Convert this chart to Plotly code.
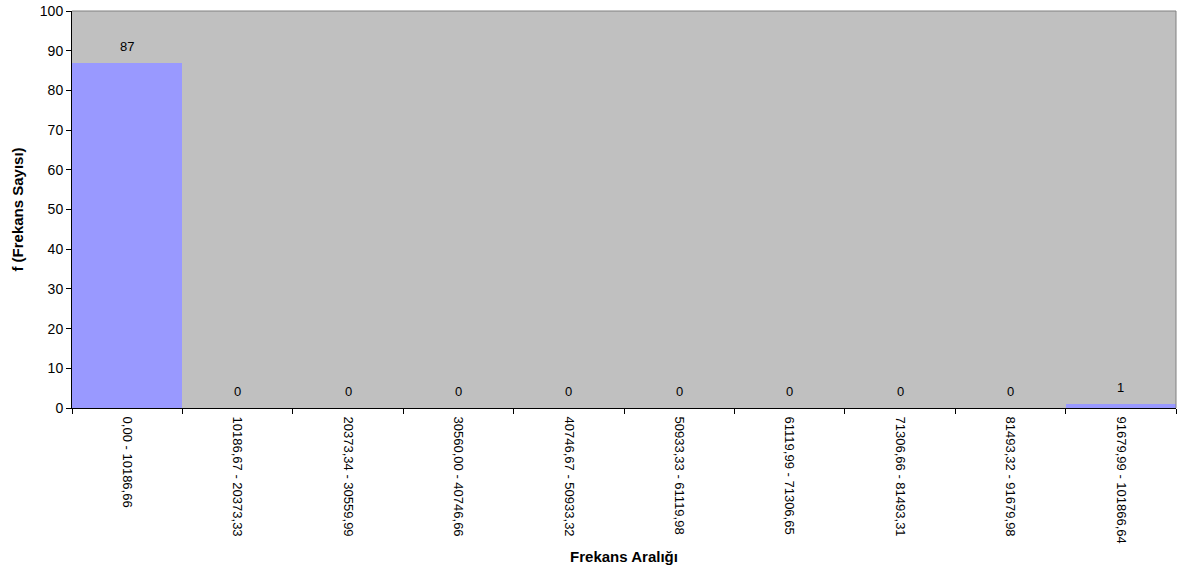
import plotly.graph_objects as go

categories = [
    "0,00 - 10186,66",
    "10186,67 - 20373,33",
    "20373,34 - 30559,99",
    "30560,00 - 40746,66",
    "40746,67 - 50933,32",
    "50933,33 - 61119,98",
    "61119,99 - 71306,65",
    "71306,66 - 81493,31",
    "81493,32 - 91679,98",
    "91679,99 - 101866,64",
]
frequencies = [87, 0, 0, 0, 0, 0, 0, 0, 0, 1]

FONT = "Arial, Liberation Sans, sans-serif"

fig = go.Figure()
fig.add_trace(go.Bar(
    x=categories,
    y=frequencies,
    marker=dict(color="#9999FF", line=dict(width=0)),
    hoverinfo="x+y",
))

for c, v in zip(categories, frequencies):
    fig.add_annotation(
        x=c, y=v, text=str(v), showarrow=False,
        yanchor="bottom", yshift=7,
        font=dict(family=FONT, size=13, color="black"),
    )

# gray top/right border of plot area
fig.add_shape(type="line", xref="paper", yref="paper", x0=0, x1=1, y0=1, y1=1,
              line=dict(color="#808080", width=1))
fig.add_shape(type="line", xref="paper", yref="paper", x0=1, x1=1, y0=0, y1=1,
              line=dict(color="#808080", width=1))

fig.update_layout(
    width=1177, height=574,
    margin=dict(l=72, r=1, t=11, b=166, autoexpand=False),
    paper_bgcolor="white",
    plot_bgcolor="#C0C0C0",
    bargap=0,
    showlegend=False,
    font=dict(family=FONT, size=13, color="black"),
    xaxis=dict(
        title=dict(text="<b>Frekans Aralığı</b>", font=dict(size=15), standoff=8),
        tickangle=90,
        tickson="boundaries",
        ticks="outside", ticklen=5, tickcolor="black",
        ticklabelstandoff=5,
        showline=True, linecolor="black", linewidth=1,
        showgrid=False, automargin=False,
        tickfont=dict(size=13),
    ),
    yaxis=dict(
        title=dict(text="<b>f (Frekans Sayısı)</b>", font=dict(size=15), standoff=12),
        range=[0, 100], dtick=10,
        ticks="outside", ticklen=5, tickcolor="black",
        showline=True, linecolor="black", linewidth=1,
        showgrid=False, zeroline=False, automargin=False,
        tickfont=dict(size=14),
    ),
)

fig.write_html(
    "out.html",
    config={"displayModeBar": False},
    post_script="document.body.style.margin='0';document.body.style.overflow='hidden';",
)
